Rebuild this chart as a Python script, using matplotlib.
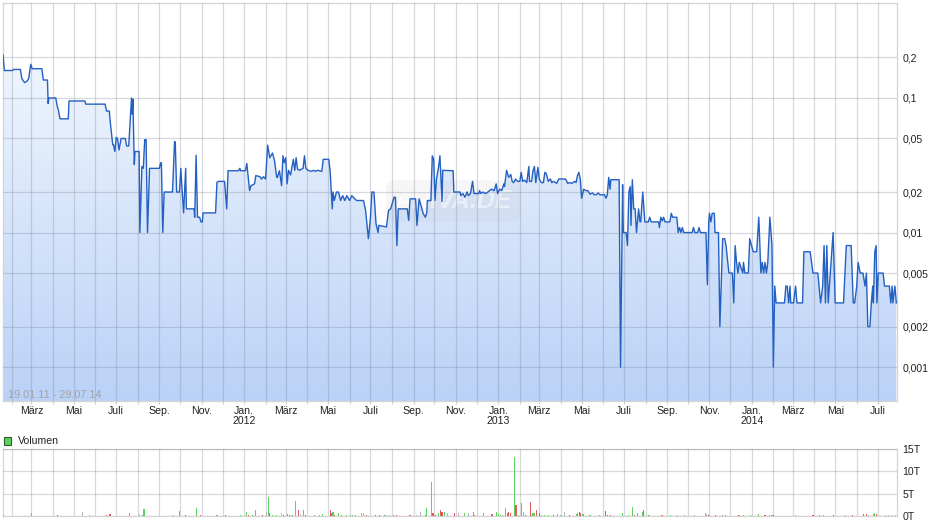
import numpy as np
import pandas as pd
import matplotlib
matplotlib.use('Agg')
import matplotlib.pyplot as plt
import matplotlib.dates as mdates
from matplotlib.colors import LinearSegmentedColormap
from matplotlib.patches import Rectangle
from matplotlib.ticker import FixedLocator, FuncFormatter, NullLocator

plt.rcParams['font.family'] = ['Liberation Sans', 'DejaVu Sans']

# Zeitraum des Charts
start = pd.Timestamp('2011-01-19')
ende = pd.Timestamp('2014-07-29')

# Kursverlauf: Tage seit Start und Kurs
kurs_tage = [0, 2, 14, 15, 25, 27, 31, 35, 37, 40,
             42, 56, 58, 64, 65, 66, 76, 78, 80, 82,
             94, 95, 118, 119, 147, 149, 153, 155, 158, 159,
             161, 163, 165, 167, 170, 176, 178, 181, 184, 185,
             186, 187, 189, 190, 196, 197, 200, 202, 204, 206,
             208, 211, 225, 227, 228, 230, 232, 244, 247, 248,
             250, 254, 256, 258, 260, 263, 264, 275, 276, 278,
             280, 283, 285, 287, 288, 306, 308, 310, 319, 322,
             324, 339, 341, 342, 349, 351, 353, 355, 357, 362,
             364, 370, 372, 375, 378, 381, 384, 388, 391, 394,
             395, 398, 401, 403, 405, 407, 409, 411, 414, 418,
             420, 422, 424, 427, 432, 434, 436, 439, 444, 447,
             450, 453, 459, 461, 469, 471, 474, 475, 477, 480,
             483, 486, 489, 492, 495, 499, 502, 509, 519, 522,
             526, 529, 531, 534, 537, 540, 541, 552, 555, 558,
             563, 565, 567, 569, 582, 584, 586, 594, 596, 599,
             605, 608, 610, 611, 616, 618, 620, 622, 624, 627,
             629, 632, 633, 648, 649, 658, 659, 662, 665, 668,
             670, 673, 676, 678, 685, 686, 688, 691, 694, 697,
             703, 707, 710, 712, 715, 718, 721, 722, 725, 728,
             731, 733, 735, 738, 741, 744, 746, 748, 751, 754,
             757, 758, 761, 763, 765, 767, 770, 772, 775, 778,
             780, 782, 785, 788, 790, 792, 794, 797, 800, 808,
             810, 813, 816, 819, 823, 825, 827, 829, 831, 833,
             836, 839, 842, 845, 849, 851, 854, 857, 859, 866,
             868, 870, 872, 874, 875, 886, 887, 889, 892, 893,
             897, 899, 901, 903, 904, 906, 908, 910, 912, 915,
             917, 918, 921, 924, 929, 931, 933, 944, 945, 947,
             949, 951, 953, 960, 962, 964, 970, 972, 974, 976,
             978, 980, 992, 994, 996, 1000, 1002, 1004, 1012, 1014,
             1016, 1017, 1019, 1021, 1024, 1025, 1030, 1032, 1036, 1039,
             1041, 1045, 1050, 1052, 1054, 1056, 1058, 1060, 1065, 1066,
             1068, 1070, 1073, 1075, 1080, 1085, 1088, 1089, 1091, 1093,
             1095, 1097, 1099, 1101, 1104, 1107, 1109, 1111, 1113, 1125,
             1127, 1129, 1131, 1133, 1134, 1138, 1141, 1143, 1151, 1153,
             1162, 1166, 1173, 1177, 1180, 1182, 1184, 1186, 1188, 1195,
             1198, 1210, 1214, 1221, 1224, 1226, 1229, 1231, 1234, 1238,
             1241, 1243, 1245, 1248, 1250, 1252, 1253, 1255, 1257, 1258,
             1260, 1267, 1269, 1276, 1278, 1280, 1281, 1284, 1286]

kurs = [0.21, 0.16, 0.16, 0.163, 0.163, 0.14, 0.13, 0.134, 0.14, 0.178,
        0.165, 0.165, 0.136, 0.136, 0.091, 0.1, 0.1, 0.087, 0.08, 0.07,
        0.07, 0.095, 0.095, 0.09, 0.09, 0.08, 0.08, 0.062, 0.045, 0.045,
        0.04, 0.051, 0.05, 0.041, 0.05, 0.05, 0.044, 0.044, 0.082, 0.1,
        0.076, 0.098, 0.032, 0.04, 0.04, 0.01, 0.031, 0.03, 0.049, 0.049,
        0.01, 0.03, 0.03, 0.033, 0.033, 0.01, 0.02, 0.02, 0.0475, 0.047,
        0.02, 0.02, 0.03, 0.02, 0.014, 0.03, 0.015, 0.015, 0.013, 0.0375,
        0.013, 0.013, 0.012, 0.012, 0.014, 0.014, 0.0236, 0.024, 0.024, 0.015,
        0.0288, 0.0288, 0.03, 0.0288, 0.0288, 0.0326, 0.0257, 0.0205, 0.0223, 0.023,
        0.0265, 0.026, 0.025, 0.026, 0.025, 0.0446, 0.036, 0.039, 0.034, 0.0257,
        0.0257, 0.0288, 0.0223, 0.0372, 0.033, 0.036, 0.023, 0.029, 0.0268, 0.035,
        0.029, 0.036, 0.0296, 0.029, 0.03, 0.0372, 0.03, 0.029, 0.0285, 0.029,
        0.0285, 0.029, 0.0285, 0.035, 0.035, 0.0285, 0.015, 0.02, 0.0173, 0.02,
        0.02, 0.0173, 0.0188, 0.0173, 0.0188, 0.0173, 0.0188, 0.0173, 0.0173, 0.0146,
        0.009, 0.013, 0.02, 0.02, 0.0116, 0.01, 0.0113, 0.011, 0.0146, 0.015,
        0.0183, 0.0183, 0.008, 0.015, 0.015, 0.0123, 0.0178, 0.0178, 0.0113, 0.0178,
        0.0138, 0.013, 0.014, 0.0173, 0.0173, 0.0372, 0.035, 0.0173, 0.025, 0.0305,
        0.0372, 0.017, 0.029, 0.0288, 0.02, 0.02, 0.0188, 0.0195, 0.0183, 0.02,
        0.0188, 0.0195, 0.024, 0.0195, 0.0195, 0.0205, 0.0195, 0.02, 0.0195, 0.0198,
        0.021, 0.0205, 0.023, 0.0195, 0.021, 0.0205, 0.023, 0.022, 0.029, 0.0257,
        0.027, 0.024, 0.0235, 0.025, 0.024, 0.024, 0.028, 0.024, 0.0245, 0.0235,
        0.031, 0.024, 0.024, 0.0288, 0.031, 0.0235, 0.0305, 0.025, 0.0235, 0.0235,
        0.028, 0.0275, 0.024, 0.025, 0.0235, 0.024, 0.0238, 0.0232, 0.025, 0.025,
        0.025, 0.0232, 0.0235, 0.0232, 0.024, 0.0235, 0.0265, 0.028, 0.025, 0.018,
        0.021, 0.0205, 0.0205, 0.0193, 0.0197, 0.0191, 0.0191, 0.0197, 0.0191, 0.0191,
        0.018, 0.0191, 0.0257, 0.021, 0.0247, 0.0247, 0.0247, 0.001, 0.0227, 0.01,
        0.01, 0.008, 0.02, 0.022, 0.0113, 0.0247, 0.015, 0.015, 0.01, 0.015,
        0.012, 0.012, 0.02, 0.012, 0.012, 0.013, 0.012, 0.012, 0.0109, 0.013,
        0.0122, 0.013, 0.012, 0.012, 0.0139, 0.013, 0.013, 0.01, 0.0109, 0.01,
        0.0109, 0.01, 0.01, 0.0109, 0.01, 0.01, 0.0109, 0.01, 0.01, 0.0041,
        0.012, 0.0139, 0.012, 0.0139, 0.0139, 0.01, 0.01, 0.002, 0.009, 0.009,
        0.0079, 0.005, 0.005, 0.003, 0.008, 0.006, 0.005, 0.006, 0.005, 0.006,
        0.005, 0.005, 0.005, 0.009, 0.0072, 0.0072, 0.013, 0.0098, 0.005, 0.006,
        0.005, 0.006, 0.005, 0.006, 0.013, 0.008, 0.001, 0.004, 0.003, 0.003,
        0.004, 0.004, 0.003, 0.004, 0.003, 0.003, 0.004, 0.003, 0.003, 0.0072,
        0.0072, 0.005, 0.005, 0.003, 0.004, 0.008, 0.003, 0.008, 0.003, 0.01,
        0.003, 0.003, 0.008, 0.008, 0.003, 0.003, 0.004, 0.006, 0.005, 0.005,
        0.004, 0.005, 0.002, 0.002, 0.003, 0.004, 0.003, 0.0072, 0.008, 0.003,
        0.005, 0.005, 0.004, 0.004, 0.003, 0.004, 0.003, 0.004, 0.003]

# Umsatz: Tage seit Start, Volumen in T, Farbe (g = steigend, r = fallend, k = neutral)
vol_tage = [0, 34, 41, 78, 115, 125, 149, 154, 182, 196,
            201, 203, 245, 254, 263, 278, 284, 308, 320, 342,
            350, 351, 353, 359, 364, 374, 379, 382, 384, 388,
            394, 401, 404, 410, 412, 415, 417, 421, 425, 428,
            432, 435, 449, 455, 460, 471, 473, 475, 477, 483,
            487, 494, 500, 503, 508, 516, 519, 523, 536, 542,
            550, 557, 562, 566, 585, 587, 595, 601, 608, 610,
            617, 619, 622, 627, 630, 632, 635, 640, 650, 656,
            665, 670, 677, 679, 692, 704, 710, 713, 716, 719,
            724, 726, 728, 731, 736, 738, 739, 742, 747, 749,
            752, 759, 761, 763, 765, 768, 772, 775, 780, 785,
            792, 798, 802, 808, 816, 825, 827, 830, 832, 835,
            845, 859, 867, 870, 874, 892, 900, 906, 909, 914,
            921, 922, 930, 948, 950, 961, 971, 981, 995, 1011,
            1013, 1016, 1017, 1026, 1036, 1040, 1059, 1060, 1066, 1076,
            1088, 1097, 1104, 1107, 1109, 1141, 1166, 1176, 1181, 1195,
            1213, 1223, 1239, 1243, 1246, 1253, 1255, 1257, 1270, 1275,
            1280, 1285]

volumen = [0.2, 0.1, 0.75, 0.15, 0.9, 0.15, 0.2, 0.35, 0.75, 0.45,
           0.2, 1.6, 0.15, 1.2, 0.15, 1.9, 0.15, 0.15, 0.15, 0.15,
           0.6, 0.9, 0.2, 0.15, 1.35, 0.15, 0.9, 4.3, 0.6, 0.15,
           0.15, 0.6, 0.2, 0.35, 0.2, 0.2, 0.3, 3.4, 1.35, 0.45,
           1.35, 0.3, 0.15, 0.15, 0.45, 1.35, 0.6, 0.9, 0.3, 0.6,
           0.15, 0.15, 0.3, 0.15, 0.15, 0.6, 0.6, 0.15, 0.15, 0.15,
           0.15, 0.15, 0.3, 0.15, 0.3, 0.15, 0.15, 1.0, 0.15, 1.8,
           7.6, 0.6, 0.2, 0.75, 1.35, 1.0, 0.9, 0.6, 0.75, 0.6,
           0.75, 0.75, 0.9, 0.3, 0.6, 0.45, 0.9, 0.45, 0.3, 0.3,
           1.9, 0.6, 0.9, 0.75, 13.1, 2.5, 2.5, 0.3, 2.8, 0.9,
           0.2, 3.1, 0.3, 0.6, 0.75, 1.35, 0.6, 0.3, 0.2, 0.15,
           0.3, 0.45, 0.3, 0.85, 0.15, 0.45, 0.6, 0.9, 0.6, 0.45,
           0.15, 0.15, 1.1, 0.3, 0.15, 0.75, 0.15, 2.1, 0.3, 0.75,
           0.9, 1.35, 0.15, 0.3, 0.15, 0.15, 0.15, 0.15, 0.15, 0.75,
           0.45, 0.3, 0.3, 0.15, 0.3, 0.15, 0.3, 0.15, 0.15, 0.2,
           0.45, 0.2, 0.3, 0.3, 0.2, 0.15, 0.15, 0.15, 0.15, 0.15,
           0.3, 0.15, 0.45, 0.45, 0.3, 0.45, 0.75, 0.45, 0.3, 0.15,
           0.3, 0.15]

vol_art = ['g', 'g', 'g', 'r', 'k', 'k', 'r', 'r', 'g', 'k',
           'g', 'g', 'g', 'g', 'r', 'g', 'r', 'g', 'r', 'g',
           'k', 'g', 'r', 'g', 'g', 'r', 'k', 'g', 'r', 'g',
           'g', 'k', 'r', 'g', 'r', 'k', 'g', 'g', 'r', 'k',
           'g', 'r', 'g', 'g', 'g', 'r', 'r', 'g', 'r', 'g',
           'g', 'g', 'g', 'g', 'g', 'k', 'k', 'r', 'r', 'r',
           'g', 'g', 'g', 'r', 'g', 'r', 'k', 'k', 'r', 'g',
           'g', 'r', 'r', 'g', 'r', 'r', 'g', 'k', 'r', 'k',
           'g', 'k', 'g', 'r', 'g', 'r', 'g', 'g', 'g', 'g',
           'g', 'r', 'r', 'r', 'g', 'r', 'r', 'g', 'g', 'k',
           'r', 'r', 'g', 'g', 'g', 'r', 'r', 'g', 'g', 'g',
           'r', 'g', 'g', 'k', 'r', 'g', 'g', 'r', 'r', 'g',
           'g', 'g', 'r', 'r', 'r', 'g', 'g', 'g', 'r', 'g',
           'g', 'r', 'g', 'g', 'r', 'g', 'g', 'g', 'g', 'k',
           'k', 'r', 'g', 'r', 'g', 'r', 'r', 'g', 'g', 'g',
           'g', 'r', 'g', 'g', 'r', 'g', 'r', 'r', 'g', 'r',
           'g', 'r', 'r', 'r', 'k', 'g', 'g', 'r', 'k', 'k',
           'k', 'k']

monatsnamen = {1: 'Jan.', 3: 'März', 5: 'Mai', 7: 'Juli', 9: 'Sep.', 11: 'Nov.'}
kurs_ticks = [0.001, 0.002, 0.005, 0.01, 0.02, 0.05, 0.1, 0.2]
kurs_labels = ['0,001', '0,002', '0,005', '0,01', '0,02', '0,05', '0,1', '0,2']
vol_ticks = [0, 5, 10, 15]
vol_labels = ['0T', '5T', '10T', '15T']

farben = {'g': '#5cd35c', 'r': '#e35b5b', 'k': '#b8b8b8'}
gitter = (0.5, 0.53, 0.6)
gitter_alpha = 0.32
textfarbe = '#222222'

x0 = mdates.date2num(start)
x1 = mdates.date2num(ende)
xk = x0 + np.array(kurs_tage, dtype=float)
xv = x0 + np.array(vol_tage, dtype=float)

fig = plt.figure(figsize=(9.4, 5.26), dpi=100)
ax = fig.add_axes([3 / 940, 125 / 526, 894 / 940, 398 / 526])
axv = fig.add_axes([3 / 940, 10 / 526, 894 / 940, 67 / 526])

# --- Kurschart ---
ax.set_yscale('log')
flaeche = ax.fill_between(xk, kurs, 1e-5, facecolor='none', edgecolor='none')
verlauf = LinearSegmentedColormap.from_list('verlauf', ['#f8fbff', '#bad2f7'])
bild = ax.imshow(np.linspace(0, 1, 256).reshape(-1, 1), cmap=verlauf, aspect='auto',
                 extent=[0, 1, 0, 1], transform=ax.transAxes, origin='upper', zorder=1)
bild.set_clip_path(flaeche.get_paths()[0], transform=ax.transData)
ax.plot(xk, kurs, color='#2460c2', lw=1.0, zorder=3)

ax.set_xlim(x0, x1)
ax.set_ylim(0.00056, 0.508)

ax.set_axisbelow(False)
ax.yaxis.set_major_locator(FixedLocator(kurs_ticks))
ax.yaxis.set_minor_locator(NullLocator())
ax.yaxis.set_major_formatter(FuncFormatter(lambda v, p: kurs_labels[kurs_ticks.index(v)] if v in kurs_ticks else ''))
ax.yaxis.tick_right()
ax.tick_params(axis='y', length=0, pad=4, labelsize=7.6, labelcolor=textfarbe)


def monat_label(v, pos):
    d = mdates.num2date(v)
    if d.month not in monatsnamen:
        return ''
    if d.month == 1:
        return monatsnamen[1] + '\n' + str(d.year)
    return monatsnamen[d.month]


ax.xaxis.set_major_locator(mdates.MonthLocator())
ax.xaxis.set_major_formatter(FuncFormatter(monat_label))
ax.tick_params(axis='x', length=2, pad=1.5, color='#cccccc', labelsize=7.6,
               labelcolor=textfarbe)
for lbl in ax.get_xticklabels():
    lbl.set_linespacing(1.05)
ax.grid(True, color=gitter, alpha=gitter_alpha, lw=0.9)
for s in ax.spines.values():
    s.set_color('#d4d4d4')
    s.set_linewidth(0.9)

ax.text(0.504, 0.5025, 'ARIVA.DE', transform=ax.transAxes, ha='center', va='center',
        fontsize=18, fontweight='bold', style='italic', color='white', alpha=0.5,
        zorder=2, bbox=dict(boxstyle='round,pad=0.35', facecolor='#c0c0c0',
                            edgecolor='none', alpha=0.14))

fig.text(8 / 940, 1 - 395 / 526, '19.01.11 - 29.07.14', fontsize=7.8, color='#a3a3a3',
         va='center', ha='left')

# --- Volumen ---
axv.bar(xv, volumen, width=1.6, color=[farben[a] for a in vol_art], zorder=3, linewidth=0)
axv.set_xlim(x0, x1)
axv.set_ylim(0, 15)
axv.set_axisbelow(False)
axv.yaxis.set_major_locator(FixedLocator(vol_ticks))
axv.set_yticklabels(vol_labels)
axv.yaxis.tick_right()
axv.tick_params(axis='y', length=0, pad=4, labelsize=7.6, labelcolor=textfarbe)
axv.xaxis.set_major_locator(mdates.MonthLocator())
axv.tick_params(axis='x', length=0, labelbottom=False)
axv.grid(True, color=gitter, alpha=gitter_alpha, lw=0.9, zorder=1)
for s in axv.spines.values():
    s.set_color('#d4d4d4')
    s.set_linewidth(0.9)

fig.add_artist(Rectangle((3.5 / 940, 1 - 444.5 / 526), 7.5 / 940, 7.5 / 526,
                         transform=fig.transFigure, facecolor='#5cd35c',
                         edgecolor='#2d5a2d', lw=0.8))
fig.text(18 / 940, 1 - 441 / 526, 'Volumen', fontsize=7.6, color=textfarbe,
         va='center', ha='left')

fig.savefig('out.png', dpi=100)
